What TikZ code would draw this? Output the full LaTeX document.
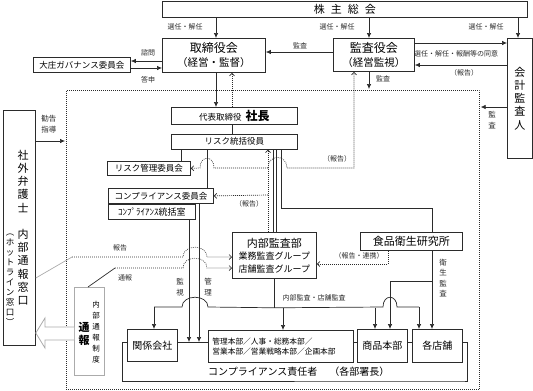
\documentclass[tikz,border=0pt]{standalone}
\usepackage{fontspec}
\setmainfont{Noto Sans CJK JP}
\usetikzlibrary{arrows.meta,positioning}
\definecolor{ink}{HTML}{2B2B2B}
\definecolor{pale}{HTML}{ABABAB}
\tikzset{
  box/.style={draw=ink,line width=0.8pt,fill=white,inner sep=0pt,align=center,anchor=north west,font=\fontsize{11}{13}\selectfont},
  sbox/.style={box,font=\fontsize{8.5}{10}\selectfont},
  ln/.style={line width=0.7pt,color=ink},
  arr/.style={ln,-{Latex[length=5pt,width=4.5pt]}},
  dline/.style={line width=0.7pt,color=ink,dash pattern=on 0.8pt off 1.2pt},
  darr/.style={dline,-{Straight Barb[length=2.5pt,width=5pt]}},
  lbl/.style={font=\fontsize{7}{9}\selectfont,color=ink,inner sep=0pt},
  vlbl/.style={lbl,align=center,font=\fontsize{7.5}{10.5}\selectfont}}
\begin{document}
\begin{tikzpicture}[x=1pt,y=-1pt]
\useasboundingbox (0,0) rectangle (533,391);
\node[dline,draw,minimum width=413pt,minimum height=299pt,anchor=north west,inner sep=0pt] (company) at (66,90) {};
% boxes
\node[box,minimum width=365pt,minimum height=16pt] (sokai) at (162,1) {株\hspace{6pt}主\hspace{6pt}総\hspace{6pt}会};
\node[box,minimum width=103pt,minimum height=34pt,font=\fontsize{12}{14}\selectfont] (tori) at (162,38) {取締役会\\{\fontsize{10.5}{13}\selectfont （経営・監督）}};
\node[box,minimum width=81pt,minimum height=33pt,font=\fontsize{12}{14}\selectfont] (kansa) at (333,38) {監査役会\\{\fontsize{10.5}{13}\selectfont （経営監視）}};
\node[box,minimum width=25pt,minimum height=120pt,font=\fontsize{11}{13.3}\selectfont] (kaikei) at (507,38) {会\\計\\監\\査\\人};
\node[sbox,minimum width=97pt,minimum height=15pt] (oosho) at (33,57) {大庄ガバナンス委員会};
\node[box,minimum width=126pt,minimum height=17pt,font=\fontsize{12}{14}\selectfont] (shacho) at (171,107) {{\fontsize{8.5}{10}\selectfont 代表取締役}\hspace{4pt}\textbf{社長}};
\node[sbox,minimum width=126pt,minimum height=15pt] (risk) at ([yshift=-9pt]shacho.south west) {リスク統括役員};
\node[sbox,minimum width=83pt,minimum height=14pt] (riskiin) at (107,161) {リスク管理委員会};
\node[sbox,minimum width=105pt,minimum height=15pt] (compiin) at (108,188) {コンプライアンス委員会};
\node[sbox,minimum width=87pt,minimum height=15pt,font=\fontsize{9}{10}\selectfont] (compshitsu) at (compiin.south west) {ｺﾝﾌﾟﾗｲｱﾝｽ統括室};
\node[box,minimum width=84pt,minimum height=46pt,font=\fontsize{9}{12.5}\selectfont] (naibu) at (232,232) {{\fontsize{11}{13}\selectfont 内部監査部}\\業務監査グループ\\店舗監査グループ};
\node[box,minimum width=102pt,minimum height=18pt] (shokuhin) at (360,232) {食品衛生研究所};
\node[box,minimum width=50pt,minimum height=32pt,font=\fontsize{10}{12}\selectfont] (kankei) at (127,329) {関係会社};
\node[box,minimum width=145pt,minimum height=32pt,text width=137pt,align=left,inner xsep=4pt,font=\fontsize{7.7}{10.5}\selectfont] (kanri) at (208,330) {管理本部／人事・総務本部／\\営業本部／営業戦略本部／企画本部};
\node[box,minimum width=50pt,minimum height=33pt,font=\fontsize{10}{12}\selectfont] (shohin) at (357,329) {商品本部};
\node[box,minimum width=50pt,minimum height=33pt,font=\fontsize{10}{12}\selectfont] (tenpo) at (412,329) {各店舗};
\node[box,minimum width=32pt,minimum height=235pt] (bengoshi) at (3,110) {};
\node[font=\fontsize{11}{13.2}\selectfont,align=center,inner sep=0pt] at (23,227.5) {社\\外\\弁\\護\\士\\[13.2pt]内\\部\\通\\報\\窓\\口};
\node[font=\fontsize{8.5}{10}\selectfont,align=center,inner sep=0pt] at (10,280) {︵\\ホ\\ッ\\ト\\ラ\\イ\\ン\\窓\\口\\︶};
\node[box,draw=pale,minimum width=30pt,minimum height=88pt] (tsuho) at (74,287) {};
\node[font=\bfseries\fontsize{11}{13}\selectfont,align=center,inner sep=0pt] at (84,334) {通\\報};
\node[font=\fontsize{7.5}{11}\selectfont,align=center,inner sep=0pt] at (96,332) {内\\部\\通\\報\\制\\度};
\node[anchor=west,inner sep=0pt,font=\fontsize{10}{12}\selectfont] at (208,372) {コンプライアンス責任者\hspace{12pt}（各部署長）};
% top arrows
\draw[arr] (sokai.south -| 216,0) -- (tori.north -| 216,0);
\draw[arr] (sokai.south -| 369,0) -- (kansa.north -| 369,0);
\draw[arr] (sokai.south -| 518,0) -- (kaikei.north -| 518,0);
\draw[arr] (kansa.west |- 0,52) -- (tori.east |- 0,52);
\draw[arr] (kansa.east |- 0,43) -- (kaikei.west |- 0,43);
\draw[arr] (kaikei.west |- 0,65) -- (kansa.east |- 0,65);
\draw[arr,shorten >=1pt] (kansa.south -| 369,0) -- (company.north -| 369,0);
\draw[arr,shorten >=1pt] (kaikei.west |- 0,107) -- (company.east |- 0,107);
\draw[arr] (tori.west |- 0,61) -- (oosho.east |- 0,61);
\draw[arr] (oosho.east |- 0,68) -- (tori.west |- 0,68);
\draw[arr] (tori.south -| 216,0) -- (shacho.north -| 216,0);
\draw[darr] (shacho.north -| 232,0) -- (tori.south -| 232,0);
% risk lines
\draw[ln] (shacho.south -| 232,0) -- (risk.north -| 232,0);
\draw[ln] (risk.south -| 181,0) -- (riskiin.north -| 181,0);
\draw[ln] (risk.south -| 207,0) -- (compiin.north -| 207,0);
\draw[ln] (risk.south -| 273,0) -- (naibu.north -| 273,0);
\draw[ln] (risk.south -| 276,0) -- (naibu.north -| 276,0);
\draw[ln] (risk.south -| 281,0) -- ++(0,59) -| (shokuhin.north -| 432,0);
% reports
\draw[darr] (naibu.north -| 268,0) -- (risk.south -| 268,0);
\draw[darr] (268,195) -- (compiin.east);
\draw[darr] (268,168) -- (214,168) .. controls (214,155) and (200,155) .. (200,168) -- (riskiin.east);
\draw[darr] (268,168) .. controls (268,154) and (287,154) .. (287,168) -- (354,168) -- (kansa.south -| 354,0);
% compliance to units
\coordinate (row) at (0,342);
\draw[arr] (compiin.south -| 199,0) -- (row -| 199,0);
\draw[arr] (compshitsu.south -| 189,0) -- (row -| 189,0);
\draw[ln] (kankei.east |- row) -- (kanri.west |- row);
\draw[ln] (kanri.east |- row) -- (shohin.west |- row);
\draw[ln] (shohin.east |- row) -- (tenpo.west |- row);
\draw[ln] (kankei.west |- row) -- ++(-5,0) -- ++(0,39) coordinate (bb) -- (bb -| tenpo.east) -- ++(5,0) |- (tenpo.east |- row);
% internal audit
\draw[ln] (naibu.south) -- ++(0,29) coordinate (bus);
\draw[ln] (bus) -- (208,307) .. controls (208,294) and (182,294) .. (182,307) -- (154,307) coordinate (b1);
\draw[arr] (b1) -- (b1 |- kankei.north);
\draw[arr] (bus -| 283,0) -- (kanri.north -| 283,0);
\draw[ln] (bus) -- (383,307) .. controls (383,294) and (397,294) .. (397,307) -- (419,307) coordinate (b4);
\draw[arr] (bus -| 375,0) -- (shohin.north -| 375,0);
\draw[arr] (b4) -- (b4 |- tenpo.north);
% food lab
\draw[arr] (shokuhin.south -| 432,0) -- (tenpo.north -| 432,0);
\path (shokuhin.south -| 432,0) ++(0,31) coordinate (eisei);
\draw[arr] (eisei) -| (shohin.north -| 390,0);
\draw[darr] (shokuhin.south -| 388,0) |- (naibu.east |- 0,264);
% hotline
\draw[arr,shorten >=1pt] (bengoshi.east |- 0,141) -- (company.west |- 0,141);
\draw[pale,line width=0.7pt] (bengoshi.east |- 0,278) -- (72,257) coordinate (h1);
\draw[darr] (h1) -- (183,257) .. controls (183,244) and (207,244) .. (207,257) -- (naibu.west |- h1);
\draw[ln] (tsuho.north -| 88,0) -- (115,268) coordinate (h2);
\draw[darr] (h2) -- (183,268) .. controls (183,255) and (207,255) .. (207,268) -- (naibu.west |- h2);
\draw[pale,line width=0.8pt,fill=white] (tsuho.west |- 0,327) -- (45,327) -- (45,318) -- (bengoshi.east |- 0,333) -- (45,348) -- (45,340) -- (tsuho.west |- 0,340);
% labels
\node[lbl] at (185,27) {選任・解任};
\node[lbl] at (337,27) {選任・解任};
\node[lbl] at (486,27) {選任・解任};
\node[lbl] at (300,46) {監査};
\node[lbl] at (456,54) {選任・解任・報酬等の同意};
\node[lbl] at (464,73) {（報告）};
\node[lbl] at (383,79) {監査};
\node[vlbl] at (492,120) {監\\査};
\node[lbl] at (148,53) {諮問};
\node[lbl] at (148,80) {答申};
\node[vlbl] at (49,124) {勧告\\指導};
\node[lbl] at (337,159) {（報告）};
\node[lbl] at (249,204) {（報告）};
\node[lbl] at (120,248) {報告};
\node[lbl] at (125,278) {通報};
\node[vlbl] at (180,287) {監\\視};
\node[vlbl] at (208,287) {管\\理};
\node[lbl] at (314,298) {内部監査・店舗監査};
\node[lbl] at (359,256) {（報告・連携）};
\node[vlbl] at (443,278) {衛\\生\\監\\査};
\end{tikzpicture}
\end{document}
